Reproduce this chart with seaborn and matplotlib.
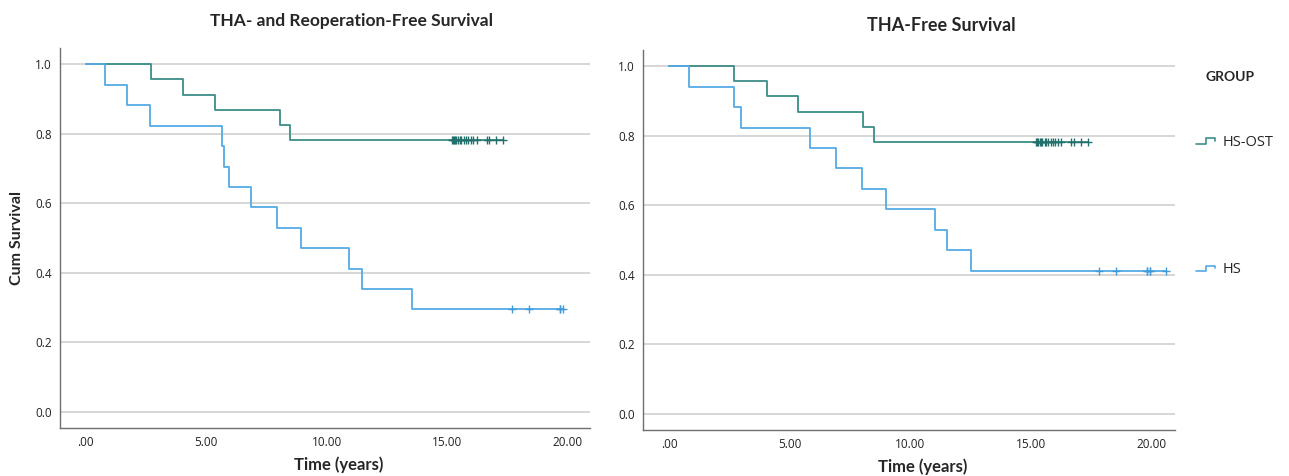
import numpy as np
import pandas as pd
import seaborn as sns
import matplotlib.pyplot as plt
from matplotlib.lines import Line2D
from matplotlib.legend_handler import HandlerBase

# Event / censor times (years)
groups = ["HS-OST", "HS"]
colors = {"HS-OST": "#3d8c88", "HS": "#55aae6"}
mark_colors = {"HS-OST": "#21706b", "HS": "#3f9bdc"}

ost_events = [2.7, 4.05, 5.35, 8.05, 8.5]
ost_censored = [15.2, 15.25, 15.3, 15.35, 15.4, 15.45, 15.55, 15.6, 15.7,
                15.8, 15.9, 16.0, 16.1, 16.25, 16.65, 16.75, 17.05, 17.35]

# THA- and reoperation-free survival, HS group
hs_events_reop = [0.78, 1.71, 2.65, 5.65, 5.75, 5.96, 6.87, 7.96, 8.94,
                  10.93, 11.47, 13.56]
hs_censored_reop = [17.7, 18.4, 19.72, 19.72, 19.84]

# THA-free survival, HS group
hs_events_tha = [0.82, 2.7, 3.0, 5.83, 6.91, 7.99, 9.0, 11.0, 11.5, 12.5]
hs_censored_tha = [17.8, 18.5, 19.78, 19.78, 19.9, 19.9, 20.6]

panels = [
    ("THA- and Reoperation-Free Survival",
     {"HS-OST": (ost_events, ost_censored), "HS": (hs_events_reop, hs_censored_reop)}),
    ("THA-Free Survival",
     {"HS-OST": (ost_events, ost_censored), "HS": (hs_events_tha, hs_censored_tha)}),
]

x_ticks = [0, 5, 10, 15, 20]
x_ticklabels = [".00", "5.00", "10.00", "15.00", "20.00"]
y_ticks = [0.0, 0.2, 0.4, 0.6, 0.8, 1.0]


def km_table(events, censored):
    # product-limit estimate, returns step curve and censor points
    times = sorted([(t, 1) for t in events] + [(t, 0) for t in censored])
    n = len(times)
    s = 1.0
    curve = [(0.0, 1.0)]
    marks = []
    for i, (t, d) in enumerate(times):
        at_risk = n - i
        if d == 1:
            s *= (at_risk - 1) / at_risk
            curve.append((t, s))
        else:
            marks.append((t, s))
    curve.append((times[-1][0], s))
    return (pd.DataFrame(curve, columns=["time", "surv"]),
            pd.DataFrame(marks, columns=["time", "surv"]))


class StepHandler(HandlerBase):
    def create_artists(self, legend, orig_handle, xdescent, ydescent,
                       width, height, fontsize, trans):
        x0 = -xdescent
        y0 = -ydescent + height * 0.2
        h = height * 0.55
        xs = [x0, x0 + 0.5 * width, x0 + 0.5 * width, x0 + width, x0 + width]
        ys = [y0, y0, y0 + h, y0 + h, y0 + h * 0.5]
        line = Line2D(xs, ys, color=orig_handle.get_color(), lw=1.2, transform=trans)
        return [line]


sns.set_style("white")
plt.rcParams["font.family"] = ["Open Sans", "DejaVu Sans"]

fig = plt.figure(figsize=(12.89, 4.76), dpi=100)
ax1 = fig.add_axes([0.0465, 0.101, 0.4112, 0.798])
ax2 = fig.add_axes([0.4988, 0.097, 0.4127, 0.798])

label_font = dict(family=["Lato", "DejaVu Sans"], fontweight="bold")

for ax, (title, data) in zip([ax1, ax2], panels):
    for y in y_ticks:
        ax.axhline(y, color="#cccccc", lw=1.1, zorder=0)
    for g in groups:
        curve, marks = km_table(*data[g])
        curve["group"] = g
        marks["group"] = g
        sns.lineplot(data=curve, x="time", y="surv", color=colors[g], lw=1.3,
                     drawstyle="steps-post", estimator=None, sort=False, ax=ax)
        sns.scatterplot(data=marks, x="time", y="surv", marker="+", s=40,
                        color=mark_colors[g], linewidth=1.0, ax=ax, zorder=3)
    ax.set_xlim(-1.08, 20.95)
    ax.set_ylim(-0.047, 1.047)
    ax.set_xticks(x_ticks)
    ax.set_xticklabels(x_ticklabels)
    ax.set_yticks(y_ticks)
    ax.set_yticklabels([f"{v:.1f}" for v in y_ticks])
    ax.tick_params(length=0, labelsize=8.5, colors="#222222", pad=6)
    for side in ["top", "right"]:
        ax.spines[side].set_visible(False)
    for side in ["left", "bottom"]:
        ax.spines[side].set_color("#6f6f6f")
        ax.spines[side].set_linewidth(1.0)
    ax.set_xlabel("Time (years)", fontsize=12, **label_font)
    ax.xaxis.set_label_coords(0.525, -0.075)
    ax.set_ylabel("")

ax1.set_title(panels[0][0], fontsize=12.5, pad=16, x=0.55, **label_font)
ax2.set_title(panels[1][0], fontsize=13, pad=14, x=0.56, **label_font)
ax1.set_ylabel("Cum Survival", fontsize=11.5, labelpad=8, **label_font)

handles = [Line2D([], [], color=colors[g]) for g in groups]
fig.text(0.935, 0.838, "GROUP", fontsize=10, ha="left", va="center", **label_font)
fig.legend(handles, groups, loc="upper left", bbox_to_anchor=(0.918, 0.744),
           frameon=False, fontsize=10.5, labelspacing=7.7, handlelength=1.3,
           handletextpad=0.5, handler_map={Line2D: StepHandler()})

fig.savefig("out.png", dpi=100)
